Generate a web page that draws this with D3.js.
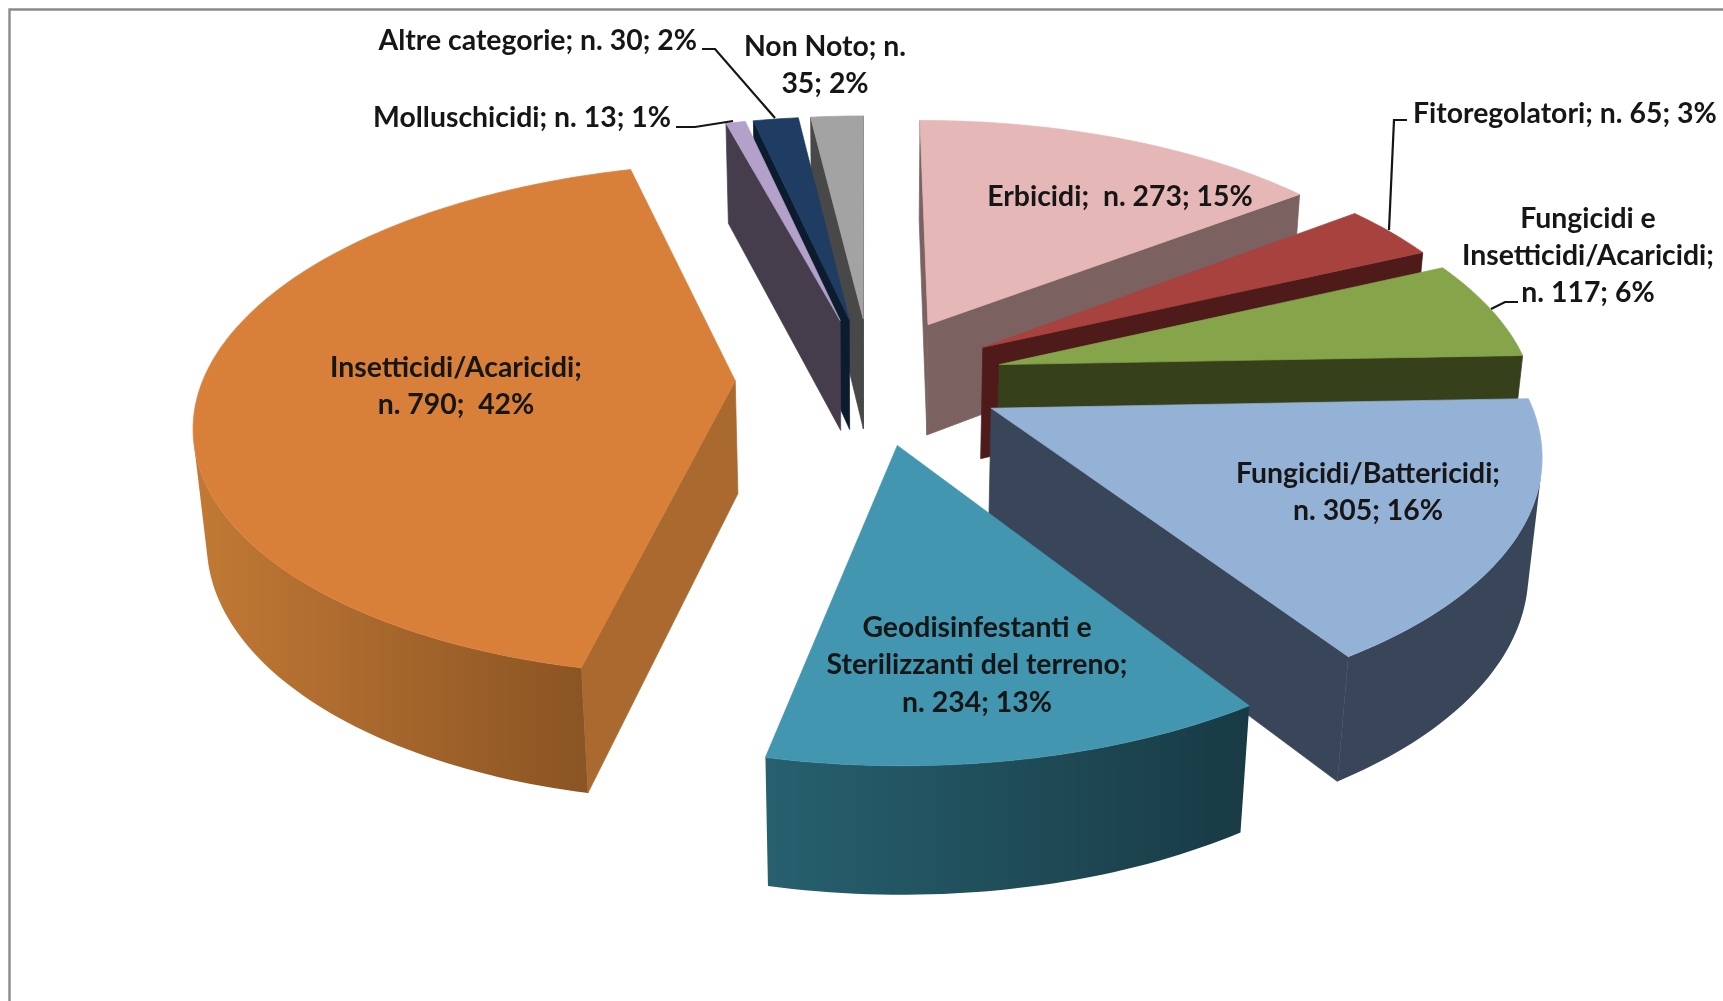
<!DOCTYPE html>
<html><head><meta charset="utf-8">
<script src="https://cdn.jsdelivr.net/npm/d3@7/dist/d3.min.js"></script>
<style>html,body{margin:0;padding:0;background:#fff;overflow:hidden}svg{display:block;filter:blur(.45px)}
text{font-family:Lato,"Open Sans",sans-serif;font-weight:700;font-size:28.4px;fill:#161616;white-space:pre}</style>
</head><body><svg id="c" width="1723" height="1001"></svg>
<script>
// DATA (clockwise from twelve o'clock)
const categories = ["Erbicidi","Fitoregolatori","Fungicidi e Insetticidi/Acaricidi","Fungicidi/Battericidi","Geodisinfestanti e Sterilizzanti del terreno","Insetticidi/Acaricidi","Molluschicidi","Altre categorie","Non Noto"];
const counts = [273,65,117,305,234,790,13,30,35];
const percents = [15,3,6,16,13,42,1,2,2];

// STYLE
const topColors  = ["#e5b7b6","#a8423f","#86a44a","#94b1d6","#4296b0","#d8803a","#b3a1c9","#1f3d63","#a3a3a3"];
const wallRight  = ["#7c6161","#4e1b1a","#36411c","#394558","#183a44","#8a5423","#463d4c","#0d1b2f","#484848"];
const wallLeft   = ["#7c6161","#4e1b1a","#36411c","#394558","#27606f","#c27935","#463d4c","#0d1b2f","#484848"];
const radialWall = ["#7c6161","#4e1b1a","#36411c","#394558","#183a44","#aa6a2f","#463d4c","#0d1b2f","#484848"];
const explodeBy  = [.25,.25,.25,.25,.26,.255,.25,.25,.25];
const drawOrder  = [8,7,6,0,1,2,3,5,4];

// GEOMETRY of the tilted pie
const W=1723,H=1001,cx=871,cy=379,Rx=532,Ry=250,persp=.15,zPersp=.02,depth=115,startDeg=-.1;
const sx=d3.scaleLinear().domain([0,1]).range([0,Rx]);
const sy=d3.scaleLinear().domain([0,1]).range([0,Ry]);
function project(u,v,z){const w=1-persp*v+zPersp*z;return [cx+sx(u)/w,cy+(sy(v)+depth*z)/w];}
const pie=d3.pie().sort(null).startAngle(startDeg*Math.PI/180).endAngle((360+startDeg)*Math.PI/180);
const arcs=pie(counts);
const svg=d3.select("#c");
const defs=svg.append("defs");
svg.append("rect").attr("width",W).attr("height",H).attr("fill","#fff");
// frame
svg.append("path").attr("d",`M9.5,${H}V9.5H${W}`).attr("fill","none").attr("stroke","#8a8a8a").attr("stroke-width",2.4);
const line=d3.line();
const area=p=>d3.sum(p,(q,i)=>{const r=p[(i+1)%p.length];return q[0]*r[1]-r[0]*q[1];});
function poly(g,pts,col){g.append("path").attr("d",line(pts)+"Z").attr("fill",col).attr("stroke",col).attr("stroke-width",.7);}

drawOrder.forEach(i=>{
  const a=arcs[i],mid=(a.startAngle+a.endAngle)/2;
  const ox=explodeBy[i]*Math.sin(mid),oy=-explodeBy[i]*Math.cos(mid);
  const n=Math.max(3,Math.ceil((a.endAngle-a.startAngle)/.02));
  const angs=d3.range(n+1).map(k=>a.startAngle+(a.endAngle-a.startAngle)*k/n);
  const pt=(t,z)=>project(ox+Math.sin(t),oy-Math.cos(t),z);
  const apex=z=>project(ox,oy,z);
  const g=svg.append("g");
  const wall=(p0,p1,p2,p3,c)=>{const q=[p0,p1,p2,p3];if(area(q)<0)poly(g,q,c);};
  wall(apex(0),pt(angs[0],0),pt(angs[0],1),apex(1),radialWall[i]);
  wall(pt(angs[n],0),apex(0),apex(1),pt(angs[n],1),radialWall[i]);
  // the visible run of the outer wall, one polygon with a left-to-right gradient
  const vis=d3.range(n).filter(k=>area([pt(angs[k],0),pt(angs[k+1],0),pt(angs[k+1],1),pt(angs[k],1)])<0);
  if(vis.length){
    const run=d3.range(vis[0],vis[vis.length-1]+2).map(k=>angs[k]);
    const outline=[...run.map(t=>pt(t,0)),...run.slice().reverse().map(t=>pt(t,1))];
    const ext=d3.extent(outline,d=>d[0]);
    const gr=defs.append("linearGradient").attr("id","w"+i).attr("gradientUnits","userSpaceOnUse")
      .attr("x1",ext[0]).attr("x2",ext[1]).attr("y1",0).attr("y2",0);
    gr.append("stop").attr("offset",0).attr("stop-color",wallLeft[i]);
    gr.append("stop").attr("offset",1).attr("stop-color",wallRight[i]);
    g.append("path").attr("d",line(outline)+"Z").attr("fill",`url(#w${i})`);
  }
  poly(g,[apex(0),...angs.map(t=>pt(t,0))],topColors[i]);
});

// LABELS (layout of the text blocks, filled from the data arrays)
const labelText=[
 [`${categories[0]};  n. ${counts[0]}; ${percents[0]}%`],
 [`${categories[1]}; n. ${counts[1]}; ${percents[1]}%`],
 ["Fungicidi e","Insetticidi/Acaricidi;",`n. ${counts[2]}; ${percents[2]}%`],
 ["Fungicidi/Battericidi;",`n. ${counts[3]}; ${percents[3]}%`],
 ["Geodisinfestanti e","Sterilizzanti del terreno;",`n. ${counts[4]}; ${percents[4]}%`],
 ["Insetticidi/Acaricidi;",`n. ${counts[5]};  ${percents[5]}%`],
 [`${categories[6]}; n. ${counts[6]}; ${percents[6]}%`],
 [`${categories[7]}; n. ${counts[7]}; ${percents[7]}%`],
 ["Non Noto; n.",`${counts[8]}; ${percents[8]}%`]
];
const labelPos=[
 {x:1120,y:196,a:"middle",d:37},
 {x:1413,y:113,a:"start",d:37},
 {x:1588,y:218,a:"middle",d:37},
 {x:1368,y:473,a:"middle",d:37},
 {x:977,y:627,a:"middle",d:37.5},
 {x:456,y:367,a:"middle",d:37},
 {x:671,y:117,a:"end",d:37},
 {x:697,y:40,a:"end",d:37},
 {x:825,y:46,a:"middle",d:37}
];
labelText.forEach((lines,i)=>{
  const p=labelPos[i];
  const t=svg.append("text").attr("text-anchor",p.a);
  lines.forEach((s,k)=>t.append("tspan").attr("x",p.x).attr("y",p.y+k*p.d).attr("dy",".35em").text(s));
});
const leaders=[
 [[702,49],[715,49],[775,118]],
 [[676,127],[695,127],[733,121]],
 [[1407,120],[1394,120],[1389,230]],
 [[1518,302],[1505,302],[1491,309]]
];
leaders.forEach(l=>svg.append("path").attr("d",line(l)).attr("fill","none").attr("stroke","#151515").attr("stroke-width",2.2));
</script></body></html>
